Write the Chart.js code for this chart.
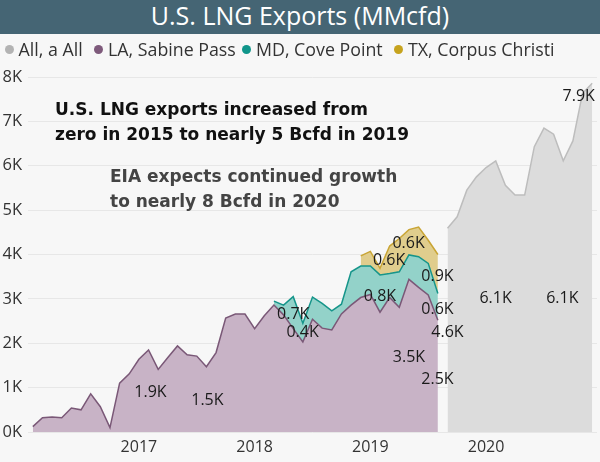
<!DOCTYPE html>
<html><head><meta charset="utf-8">
<script src="https://cdn.jsdelivr.net/npm/chart.js@4/dist/chart.umd.min.js"></script>
<style>
html,body{margin:0;padding:0;background:#f7f7f7;}
#wrap{position:relative;width:600px;height:462px;overflow:hidden;background:#f7f7f7;font-family:'Open Sans',sans-serif;}
#c{position:absolute;left:0;top:0;}
#title{position:absolute;left:0;top:0;width:600px;height:34px;background:#456574;}
#title span{position:absolute;left:0;width:600px;text-align:center;top:3px;line-height:1;font-size:25px;color:#fff;white-space:nowrap;}
#legend{position:absolute;top:0;left:0;width:600px;height:70px;font-size:17.8px;line-height:20px;color:#333;}
.li{position:absolute;top:39px;display:flex;align-items:center;white-space:nowrap;}
.dot{width:9px;height:9px;border-radius:50%;margin-right:5px;margin-top:1px;}
.ann{position:absolute;font-family:'DejaVu Sans',sans-serif;font-weight:bold;font-size:17px;line-height:25px;white-space:nowrap;}
</style></head>
<body>
<div id="wrap">
<canvas id="c" width="600" height="462"></canvas>
<div id="title"><span>U.S. LNG Exports (MMcfd)</span></div>
<div id="legend"></div>
<div class="ann" style="left:55px;top:96.6px;color:#111;">U.S. LNG exports increased from<br>zero in 2015 to nearly 5 Bcfd in 2019</div>
<div class="ann" style="left:110px;top:163.6px;color:#444;">EIA expects continued growth<br>to nearly 8 Bcfd in 2020</div>
</div>
<script>
const months = ['2016-02','2016-03','2016-04','2016-05','2016-06','2016-07','2016-08','2016-09','2016-10','2016-11','2016-12',
'2017-01','2017-02','2017-03','2017-04','2017-05','2017-06','2017-07','2017-08','2017-09','2017-10','2017-11','2017-12',
'2018-01','2018-02','2018-03','2018-04','2018-05','2018-06','2018-07','2018-08','2018-09','2018-10','2018-11','2018-12',
'2019-01','2019-02','2019-03','2019-04','2019-05','2019-06','2019-07','2019-08','2019-09','2019-10','2019-11','2019-12',
'2020-01','2020-02','2020-03','2020-04','2020-05','2020-06','2020-07','2020-08','2020-09','2020-10','2020-11','2020-12'];

const yearTicks = ['2017','2018','2019','2020'];
const yTickLabels = ['0K','1K','2K','3K','4K','5K','6K','7K','8K'];

const sabinePass = [120,320,340,320,540,500,860,570,100,1100,
1310,1640,1850,1410,1680,1940,1740,1710,1470,1790,
2570,2660,2660,2330,2620,2860,2640,2330,2030,2540,
2340,2300,2660,2860,3030,3100,2700,3030,2810,3440,
3260,3090,2520,
null,null,null,null,null,null,null,null,null,null,null,null,null,null,null,null];

const covePoint = [null,null,null,null,null,null,null,null,null,null,
null,null,null,null,null,null,null,null,null,null,
null,null,null,null,null,90,220,720,420,500,
560,430,220,750,710,640,840,540,800,550,
690,710,600,
null,null,null,null,null,null,null,null,null,null,null,null,null,null,null,null];

const corpusChristi = [null,null,null,null,null,null,null,null,null,null,
null,null,null,null,null,null,null,null,null,null,
null,null,null,null,null,null,null,null,null,null,
null,null,null,null,230,330,150,620,750,570,
670,520,880,
null,null,null,null,null,null,null,null,null,null,null,null,null,null,null,null];

const allExports = [null,null,null,null,null,null,null,null,null,null,
null,null,null,null,null,null,null,null,null,null,
null,null,null,null,null,null,null,null,null,null,
null,null,null,null,null,null,null,null,null,null,
null,null,null,
4590,4850,5450,5750,5960,6110,5560,5340,5340,6430,6850,6710,6110,6560,7630,7860];

const seriesNames = ['All, a All','LA, Sabine Pass','MD, Cove Point','TX, Corpus Christi'];
const legendColors = ['#b3b3b3','#7e5a7b','#10958a','#c6a31e'];
const legendLeft = [4.5,94,242,394];

// data labels: text, month position (index), value (MMcfd)
const labelTexts = ['1.9K','1.5K','0.7K','0.4K','0.8K','0.6K','0.6K','0.9K','0.6K','4.6K','3.5K','2.5K','6.1K','6.1K','7.9K'];
const labelMonth = [12.2,18.1,27.0,27.97,36.0,36.94,38.96,41.96,41.96,43.0,39.0,41.96,47.98,54.9,56.6];
const labelValue = [900,710,2660,2250,3065,3865,4250,3515,2760,2250,1690,1195,3020,3020,7570];

const leg = document.getElementById('legend');
seriesNames.forEach((n,i)=>{
  const d=document.createElement('div');d.className='li';
  d.style.left = legendLeft[i]+'px';
  d.innerHTML='<span class="dot" style="background:'+legendColors[i]+'"></span><span>'+n+'</span>';
  leg.appendChild(d);
});

const labelPlugin = {
  id:'dataLabels',
  afterDatasetsDraw(chart){
    const {ctx, scales:{x,y}} = chart;
    ctx.save();
    ctx.font = '16px "Open Sans"';
    ctx.fillStyle = '#1a1a1a';
    ctx.textAlign = 'center';
    ctx.textBaseline = 'middle';
    labelTexts.forEach((t,i)=>{
      ctx.fillText(t, x.getPixelForValue(labelMonth[i]), y.getPixelForValue(labelValue[i]));
    });
    ctx.restore();
  }
};

new Chart(document.getElementById('c'), {
  type:'line',
  data:{
    labels:months,
    datasets:[
      {label:seriesNames[1], data:sabinePass, borderColor:'#7a5877', backgroundColor:'#c8b3c6', fill:'origin'},
      {label:seriesNames[2], data:covePoint, borderColor:'#16958a', backgroundColor:'#93d2c9', fill:'-1'},
      {label:seriesNames[3], data:corpusChristi, borderColor:'#c9a535', backgroundColor:'#e0cd8d', fill:'-1'},
      {label:seriesNames[0], data:allExports, borderColor:'#bdbdbd', backgroundColor:'#dcdcdc', fill:'origin', stack:'all'}
    ]
  },
  options:{
    responsive:false, animation:false, devicePixelRatio:1,
    layout:{padding:{top:77,left:0,right:3,bottom:0}},
    plugins:{legend:{display:false}, title:{display:false}, tooltip:{enabled:false}},
    elements:{point:{radius:0,hoverRadius:0}, line:{tension:0, borderWidth:1.5}},
    scales:{
      x:{type:'category', offset:true,
        grid:{display:false, drawTicks:false}, border:{display:false},
        ticks:{autoSkip:false, maxRotation:0, minRotation:0, padding:6, color:'#333',
          font:{family:'Open Sans', size:16},
          callback:(v,i)=>{const m=months[i]; if(m.endsWith('-01')){const yr=m.slice(0,4); return yearTicks.includes(yr)?yr:null;} return null;}},
        afterFit:(s)=>{s.height=30;}
      },
      y:{stacked:true, min:0, max:8000,
        grid:{color:'#e7e7e7', drawTicks:false}, border:{display:false},
        ticks:{stepSize:1000, padding:6, color:'#333', font:{family:'Open Sans', size:16.5},
          callback:(v)=>yTickLabels[Math.round(v/1000)]},
        afterFit:(s)=>{s.width=28;}
      }
    }
  },
  plugins:[labelPlugin]
});
</script>
</body></html>
